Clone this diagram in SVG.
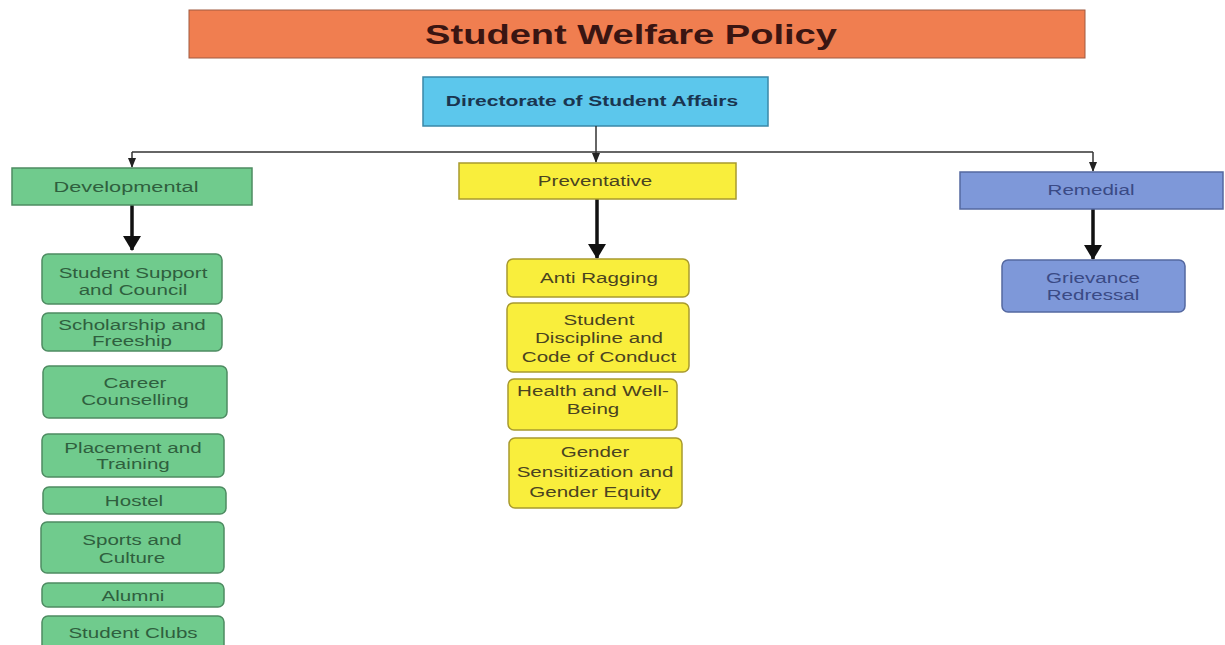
<svg xmlns="http://www.w3.org/2000/svg" width="1225" height="645" viewBox="0 0 1225 645">
<defs>
<style>
text{font-family:"Liberation Sans",Arial,sans-serif;text-anchor:middle}
.g{fill:#70CB8D;stroke:#4E8C62;stroke-width:1.5}
.y{fill:#F9EE3C;stroke:#A89A2E;stroke-width:1.5}
.b{fill:#7E98D9;stroke:#5468A0;stroke-width:1.5}
.gt{fill:#2F5F3E;font-size:14.5px}
.yt{fill:#4A4320;font-size:14.5px}
.bt{fill:#3A4A85;font-size:14.5px}
.thin{stroke:#333;stroke-width:1.5;fill:none}
.thick{stroke:#111;stroke-width:3.5;fill:none}
</style>
<marker id="ah" markerWidth="10" markerHeight="8" refX="9" refY="4" orient="auto" markerUnits="userSpaceOnUse"><path d="M0,0 L10,4 L0,8 Z" fill="#222"/></marker>
<marker id="ahb" markerWidth="15" markerHeight="18" refX="14" refY="9" orient="auto" markerUnits="userSpaceOnUse"><path d="M0,0 L15,9 L0,18 Z" fill="#111"/></marker>
</defs>
<rect width="1225" height="645" fill="#fff"/>
<g id="title"><rect x="189" y="10" width="896" height="48" fill="#F07E50" stroke="#A05A40" stroke-width="1"/><text transform="matrix(1.41 0 0 1 631 44)" font-size="27" font-weight="bold" fill="#3A1512">Student Welfare Policy</text></g>
<g id="directorate"><rect x="423" y="77" width="345" height="49" fill="#5CC7EC" stroke="#3A88A8" stroke-width="1.5"/><text transform="matrix(1.45 0 0 1 592 106)" font-size="14.5" font-weight="bold" fill="#1A3550">Directorate of Student Affairs</text></g>
<g id="connectors">
<path class="thin" d="M596,126 V152"/>
<path class="thin" d="M132,152 H1093"/>
<path class="thin" d="M132,152 V167" marker-end="url(#ah)"/>
<path class="thin" d="M596,152 V162" marker-end="url(#ah)"/>
<path class="thin" d="M1093,152 V171" marker-end="url(#ah)"/>
<path class="thick" d="M132,205 V250" marker-end="url(#ahb)"/>
<path class="thick" d="M597,199 V258" marker-end="url(#ahb)"/>
<path class="thick" d="M1093,209 V259" marker-end="url(#ahb)"/>
</g>
<g id="developmental"><rect class="g" x="12" y="168" width="240" height="37"/><text class="gt" transform="matrix(1.5 0 0 1 126 192)">Developmental</text></g>
<g id="preventative"><rect class="y" x="459" y="163" width="277" height="36"/><text class="yt" transform="matrix(1.42 0 0 1 595 186)">Preventative</text></g>
<g id="remedial"><rect class="b" x="960" y="172" width="263" height="37"/><text class="bt" transform="matrix(1.42 0 0 1 1091 195)">Remedial</text></g>
<g id="support"><rect class="g" x="42" y="254" width="180" height="50" rx="6"/><text class="gt" transform="matrix(1.42 0 0 1 133 278)"><tspan x="0">Student Support</tspan><tspan x="0" dy="17">and Council</tspan></text></g>
<g id="scholarship"><rect class="g" x="42" y="313" width="180" height="38" rx="6"/><text class="gt" transform="matrix(1.42 0 0 1 132 330)"><tspan x="0">Scholarship and</tspan><tspan x="0" dy="16">Freeship</tspan></text></g>
<g id="career"><rect class="g" x="43" y="366" width="184" height="52" rx="6"/><text class="gt" transform="matrix(1.42 0 0 1 135 388)"><tspan x="0">Career</tspan><tspan x="0" dy="17">Counselling</tspan></text></g>
<g id="placement"><rect class="g" x="42" y="434" width="182" height="43" rx="6"/><text class="gt" transform="matrix(1.42 0 0 1 133 453)"><tspan x="0">Placement and</tspan><tspan x="0" dy="16">Training</tspan></text></g>
<g id="hostel"><rect class="g" x="43" y="487" width="183" height="27" rx="6"/><text class="gt" transform="matrix(1.42 0 0 1 134 506)">Hostel</text></g>
<g id="sports"><rect class="g" x="41" y="522" width="183" height="51" rx="6"/><text class="gt" transform="matrix(1.42 0 0 1 132 545)"><tspan x="0">Sports and</tspan><tspan x="0" dy="18">Culture</tspan></text></g>
<g id="alumni"><rect class="g" x="42" y="583" width="182" height="24" rx="6"/><text class="gt" transform="matrix(1.42 0 0 1 133 601)">Alumni</text></g>
<g id="clubs"><rect class="g" x="42" y="616" width="182" height="40" rx="6"/><text class="gt" transform="matrix(1.42 0 0 1 133 638)">Student Clubs</text></g>
<g id="ragging"><rect class="y" x="507" y="259" width="182" height="38" rx="6"/><text class="yt" transform="matrix(1.42 0 0 1 599 283)">Anti Ragging</text></g>
<g id="discipline"><rect class="y" x="507" y="303" width="182" height="69" rx="6"/><text class="yt" transform="matrix(1.42 0 0 1 599 325)"><tspan x="0">Student</tspan><tspan x="0" dy="18.5">Discipline and</tspan><tspan x="0" dy="18.5">Code of Conduct</tspan></text></g>
<g id="health"><rect class="y" x="508" y="379" width="169" height="51" rx="6"/><text class="yt" transform="matrix(1.42 0 0 1 593 396)"><tspan x="0">Health and Well-</tspan><tspan x="0" dy="18">Being</tspan></text></g>
<g id="gender"><rect class="y" x="509" y="438" width="173" height="70" rx="6"/><text class="yt" transform="matrix(1.42 0 0 1 595 457)"><tspan x="0">Gender</tspan><tspan x="0" dy="20">Sensitization and</tspan><tspan x="0" dy="20">Gender Equity</tspan></text></g>
<g id="grievance"><rect class="b" x="1002" y="260" width="183" height="52" rx="6"/><text class="bt" transform="matrix(1.42 0 0 1 1093 283)"><tspan x="0">Grievance</tspan><tspan x="0" dy="17">Redressal</tspan></text></g>
</svg>
